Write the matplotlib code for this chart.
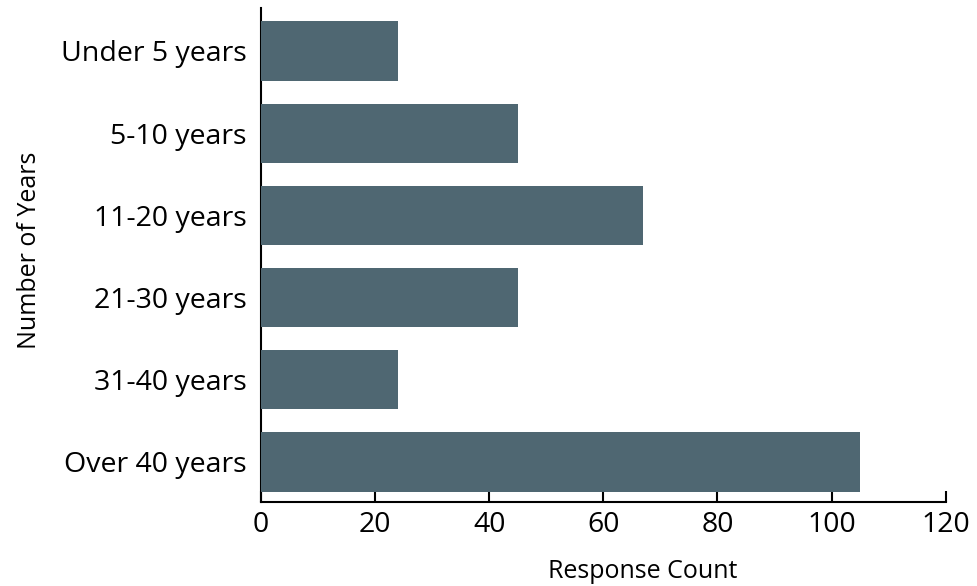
import matplotlib
matplotlib.use("Agg")
import matplotlib.pyplot as plt

categories = ["Under 5 years", "5-10 years", "11-20 years", "21-30 years",
              "31-40 years", "Over 40 years"]
counts = [24, 45, 67, 45, 24, 105]
x_ticks = [0, 20, 40, 60, 80, 100, 120]

BAR = "#4f6772"
plt.rcParams["font.family"] = ["Open Sans", "DejaVu Sans"]

fig = plt.figure(figsize=(9.77, 5.86), dpi=100)
ax = fig.add_axes([0.267, 0.143, 0.701, 0.843])

ypos = list(range(len(categories)))
ax.barh(ypos, counts, height=0.72, color=BAR, zorder=3)
ax.set_yticks(ypos)
ax.set_yticklabels(categories, fontsize=20.5)
ax.set_ylim(5.49, -0.52)
ax.set_xlim(0, 120)
ax.set_xticks(x_ticks)
ax.set_xticklabels([str(t) for t in x_ticks], fontsize=20.5)

for s in ("top", "right"):
    ax.spines[s].set_visible(False)
for s in ("left", "bottom"):
    ax.spines[s].set_linewidth(1.5)
    ax.spines[s].set_color("black")
ax.tick_params(axis="y", length=0, pad=10)
ax.tick_params(axis="x", direction="in", length=8, width=1.5, pad=6)

ax.set_xlabel("Response Count", fontsize=18)
ax.xaxis.set_label_coords(0.557, -0.115)
ax.set_ylabel("Number of Years", fontsize=18)
ax.yaxis.set_label_coords(-0.32, 0.51)

fig.savefig("out.png", dpi=100)
